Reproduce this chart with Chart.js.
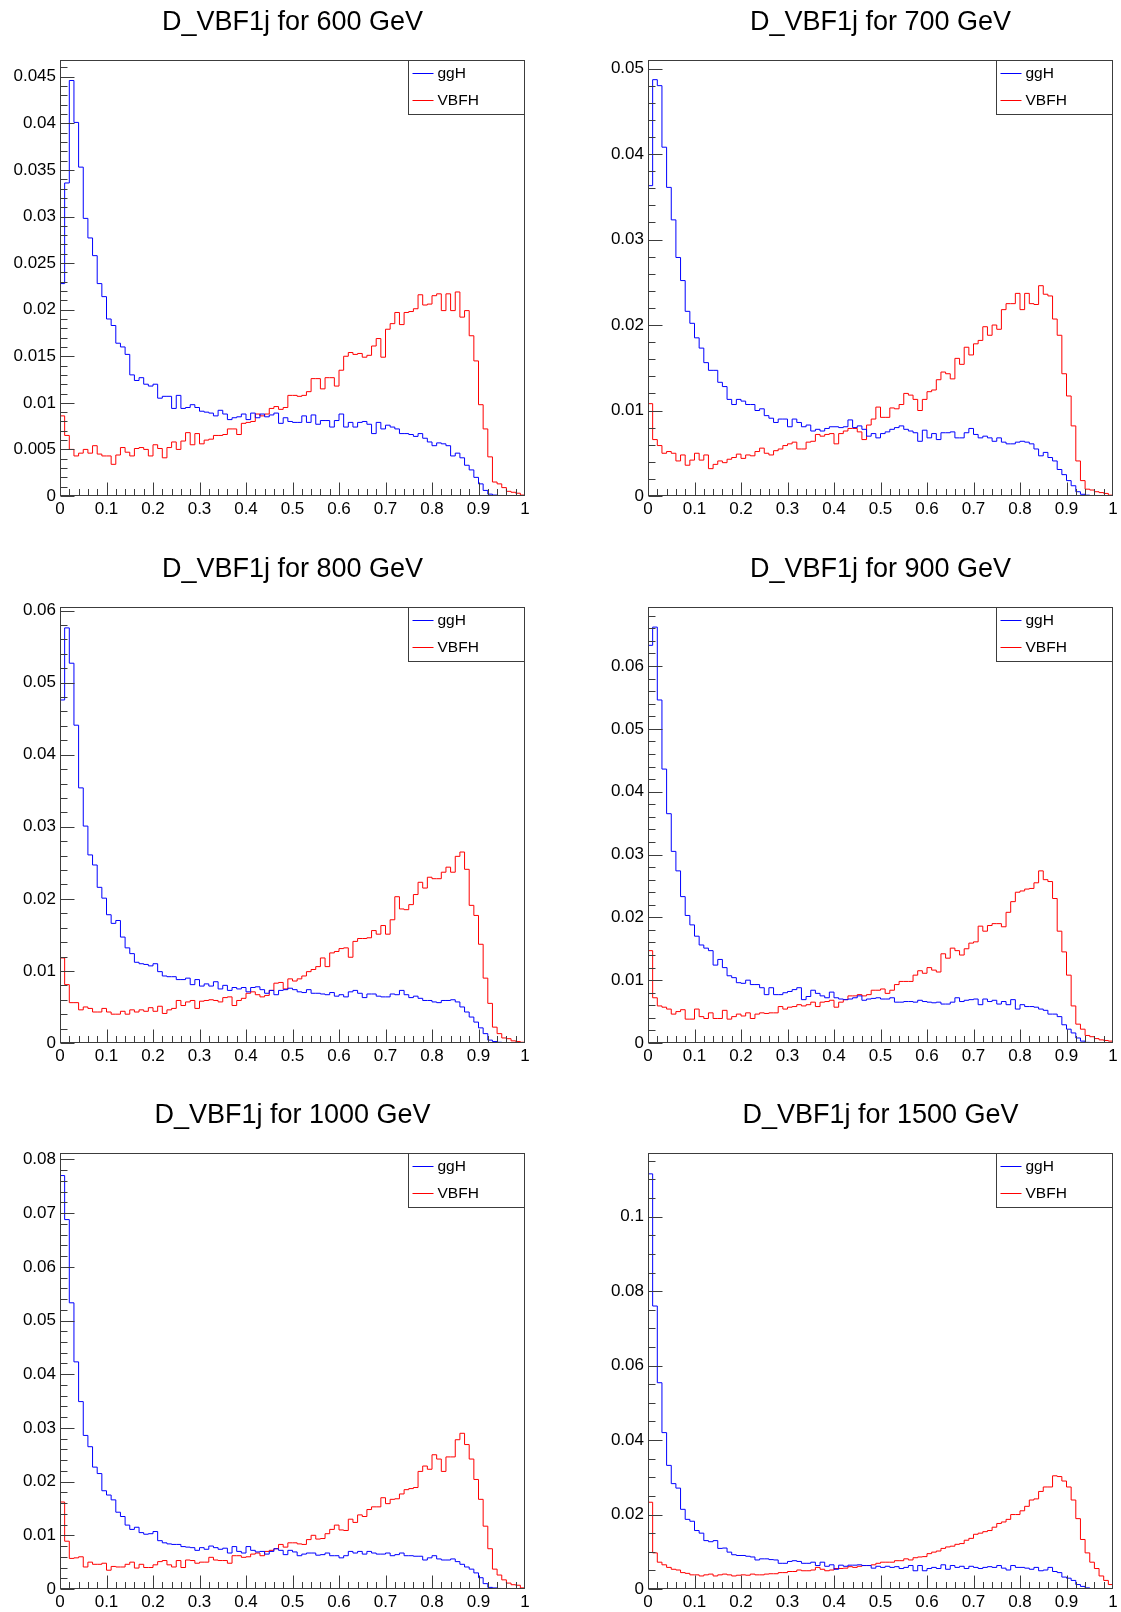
<!DOCTYPE html>
<html>
<head>
<meta charset="utf-8">
<script src="https://cdn.jsdelivr.net/npm/chart.js@4.4.1/dist/chart.umd.min.js"></script>
<style>
  body { margin: 0; background: #fff; width: 1121px; height: 1612px; overflow: hidden; position: relative; }
  canvas { position: absolute; }
</style>
</head>
<body>
<script>
// bin contents, 100 bins on [0, 1]
const ggH600 = [0.0228,0.0336,0.0446,0.0401,0.0353,0.0298,0.0277,0.0258,0.0228,0.0214,
  0.0190,0.0183,0.0164,0.0160,0.0152,0.0130,0.0124,0.0127,0.0120,0.0118,
  0.0120,0.0105,0.0107,0.0107,0.0094,0.0108,0.0094,0.0095,0.0098,0.0095,
  0.0091,0.0090,0.0089,0.0086,0.0092,0.0088,0.0082,0.0084,0.0085,0.0088,
  0.0082,0.0089,0.0084,0.0088,0.0085,0.0087,0.0089,0.0078,0.0084,0.0080,
  0.0079,0.0079,0.0086,0.0079,0.0087,0.0077,0.0081,0.0081,0.0074,0.0081,
  0.0088,0.0074,0.0079,0.0074,0.0079,0.0080,0.0077,0.0067,0.0079,0.0072,
  0.0076,0.0074,0.0072,0.0067,0.0067,0.0066,0.0064,0.0067,0.0062,0.0058,
  0.0054,0.0057,0.0056,0.0054,0.0043,0.0046,0.0041,0.0033,0.0028,0.0020,
  0.0013,0.0006,0.0002,0.0001,0,0,0,0,0,0];
const vbf600 = [0.0086,0.0065,0.0050,0.0043,0.0046,0.0050,0.0046,0.0054,0.0045,0.0043,
  0.0043,0.0034,0.0044,0.0052,0.0047,0.0043,0.0051,0.0052,0.0050,0.0043,
  0.0055,0.0051,0.0041,0.0052,0.0058,0.0050,0.0059,0.0068,0.0055,0.0067,
  0.0056,0.0060,0.0061,0.0065,0.0065,0.0066,0.0072,0.0072,0.0066,0.0078,
  0.0079,0.0080,0.0088,0.0086,0.0088,0.0094,0.0096,0.0093,0.0095,0.0108,
  0.0108,0.0107,0.0108,0.0112,0.0126,0.0126,0.0115,0.0127,0.0127,0.0118,
  0.0135,0.0150,0.0154,0.0152,0.0153,0.0149,0.0151,0.0161,0.0169,0.0149,
  0.0179,0.0185,0.0197,0.0184,0.0197,0.0198,0.0201,0.0216,0.0205,0.0206,
  0.0215,0.0217,0.0199,0.0217,0.0199,0.0219,0.0192,0.0199,0.0172,0.0145,
  0.0098,0.0072,0.0042,0.0015,0.0013,0.0009,0.0005,0.0004,0.0003,0.0001];

const ggH700 = [0.0363,0.0487,0.0480,0.0408,0.0361,0.0323,0.0279,0.0252,0.0216,0.0202,
  0.0185,0.0173,0.0156,0.0147,0.0147,0.0133,0.0128,0.0113,0.0107,0.0113,
  0.0111,0.0107,0.0107,0.0100,0.0102,0.0094,0.0091,0.0086,0.0090,0.0090,
  0.0081,0.0090,0.0086,0.0081,0.0083,0.0076,0.0078,0.0076,0.0079,0.0081,
  0.0081,0.0080,0.0081,0.0089,0.0080,0.0082,0.0078,0.0070,0.0073,0.0068,
  0.0073,0.0075,0.0078,0.0080,0.0082,0.0078,0.0076,0.0074,0.0064,0.0077,
  0.0068,0.0073,0.0066,0.0074,0.0074,0.0075,0.0068,0.0068,0.0074,0.0079,
  0.0072,0.0068,0.0070,0.0068,0.0064,0.0068,0.0063,0.0061,0.0061,0.0063,
  0.0064,0.0063,0.0061,0.0055,0.0047,0.0051,0.0045,0.0041,0.0031,0.0025,
  0.0018,0.0012,0.0005,0.0002,0.0001,0,0,0,0,0];
const vbf700 = [0.0108,0.0066,0.0059,0.0050,0.0052,0.0050,0.0041,0.0048,0.0036,0.0042,
  0.0050,0.0042,0.0048,0.0032,0.0037,0.0041,0.0039,0.0043,0.0045,0.0049,
  0.0044,0.0048,0.0047,0.0052,0.0056,0.0050,0.0048,0.0053,0.0055,0.0059,
  0.0061,0.0063,0.0055,0.0055,0.0063,0.0064,0.0072,0.0070,0.0072,0.0073,
  0.0061,0.0073,0.0076,0.0079,0.0079,0.0075,0.0066,0.0083,0.0090,0.0104,
  0.0092,0.0092,0.0103,0.0102,0.0107,0.0120,0.0118,0.0113,0.0100,0.0113,
  0.0122,0.0124,0.0136,0.0145,0.0143,0.0137,0.0161,0.0154,0.0174,0.0165,
  0.0178,0.0182,0.0198,0.0188,0.0200,0.0195,0.0218,0.0225,0.0225,0.0237,
  0.0218,0.0237,0.0225,0.0224,0.0246,0.0236,0.0234,0.0207,0.0188,0.0143,
  0.0117,0.0082,0.0041,0.0018,0.0008,0.0007,0.0005,0.0004,0.0003,0.0001];

const ggH800 = [0.0476,0.0576,0.0527,0.0441,0.0354,0.0301,0.0261,0.0247,0.0216,0.0201,
  0.0178,0.0166,0.0170,0.0147,0.0132,0.0124,0.0112,0.0110,0.0109,0.0107,
  0.0110,0.0099,0.0093,0.0092,0.0092,0.0088,0.0088,0.0090,0.0081,0.0088,
  0.0079,0.0082,0.0079,0.0085,0.0075,0.0080,0.0073,0.0077,0.0075,0.0077,
  0.0071,0.0077,0.0078,0.0074,0.0069,0.0073,0.0067,0.0073,0.0074,0.0076,
  0.0074,0.0071,0.0070,0.0074,0.0069,0.0069,0.0068,0.0067,0.0070,0.0065,
  0.0067,0.0064,0.0071,0.0073,0.0069,0.0063,0.0068,0.0068,0.0065,0.0064,
  0.0064,0.0068,0.0067,0.0073,0.0067,0.0063,0.0065,0.0062,0.0059,0.0059,
  0.0057,0.0056,0.0059,0.0059,0.0060,0.0057,0.0050,0.0043,0.0036,0.0029,
  0.0021,0.0013,0.0004,0.0002,0.0001,0,0,0,0,0];
const vbf800 = [0.0118,0.0081,0.0056,0.0056,0.0046,0.0050,0.0048,0.0043,0.0043,0.0048,
  0.0043,0.0040,0.0040,0.0044,0.0040,0.0046,0.0043,0.0046,0.0044,0.0049,
  0.0044,0.0051,0.0041,0.0046,0.0048,0.0059,0.0052,0.0057,0.0059,0.0048,
  0.0058,0.0059,0.0060,0.0059,0.0057,0.0063,0.0064,0.0052,0.0059,0.0062,
  0.0069,0.0071,0.0067,0.0064,0.0066,0.0073,0.0083,0.0084,0.0075,0.0089,
  0.0086,0.0089,0.0093,0.0099,0.0102,0.0106,0.0118,0.0106,0.0125,0.0127,
  0.0131,0.0132,0.0119,0.0141,0.0145,0.0145,0.0146,0.0156,0.0151,0.0163,
  0.0151,0.0171,0.0203,0.0186,0.0185,0.0192,0.0206,0.0223,0.0215,0.0230,
  0.0228,0.0228,0.0237,0.0244,0.0237,0.0259,0.0265,0.0241,0.0191,0.0177,
  0.0137,0.0090,0.0055,0.0022,0.0013,0.0007,0.0006,0.0003,0.0002,0.0001];

const ggH900 = [0.0633,0.0662,0.0546,0.0436,0.0365,0.0305,0.0274,0.0233,0.0203,0.0188,
  0.0170,0.0156,0.0151,0.0147,0.0124,0.0133,0.0120,0.0107,0.0104,0.0096,
  0.0095,0.0100,0.0093,0.0093,0.0088,0.0077,0.0088,0.0077,0.0077,0.0080,
  0.0082,0.0085,0.0088,0.0069,0.0074,0.0084,0.0079,0.0075,0.0072,0.0081,
  0.0072,0.0070,0.0069,0.0070,0.0072,0.0075,0.0068,0.0070,0.0071,0.0072,
  0.0070,0.0070,0.0072,0.0065,0.0065,0.0066,0.0066,0.0065,0.0068,0.0066,
  0.0065,0.0064,0.0065,0.0062,0.0062,0.0065,0.0072,0.0066,0.0068,0.0069,
  0.0070,0.0061,0.0070,0.0066,0.0068,0.0062,0.0066,0.0061,0.0069,0.0054,
  0.0061,0.0058,0.0058,0.0057,0.0054,0.0052,0.0046,0.0046,0.0042,0.0029,
  0.0022,0.0016,0.0008,0.0003,0.0001,0,0,0,0,0];
const vbf900 = [0.0147,0.0072,0.0059,0.0057,0.0054,0.0046,0.0050,0.0053,0.0038,0.0038,
  0.0054,0.0042,0.0039,0.0048,0.0039,0.0039,0.0052,0.0038,0.0042,0.0046,
  0.0043,0.0048,0.0039,0.0046,0.0048,0.0047,0.0048,0.0048,0.0058,0.0054,
  0.0057,0.0058,0.0061,0.0059,0.0061,0.0065,0.0058,0.0065,0.0066,0.0068,
  0.0057,0.0065,0.0069,0.0075,0.0075,0.0077,0.0075,0.0077,0.0084,0.0084,
  0.0086,0.0079,0.0084,0.0093,0.0098,0.0098,0.0098,0.0108,0.0115,0.0111,
  0.0120,0.0116,0.0113,0.0142,0.0135,0.0151,0.0147,0.0140,0.0150,0.0159,
  0.0161,0.0186,0.0178,0.0187,0.0190,0.0190,0.0185,0.0208,0.0225,0.0240,
  0.0242,0.0245,0.0246,0.0255,0.0274,0.0260,0.0257,0.0230,0.0178,0.0145,
  0.0108,0.0059,0.0030,0.0022,0.0012,0.0010,0.0007,0.0005,0.0004,0.0003];

const ggH1000 = [0.0770,0.0688,0.0533,0.0423,0.0349,0.0286,0.0265,0.0227,0.0215,0.0183,
  0.0175,0.0166,0.0143,0.0135,0.0119,0.0111,0.0115,0.0105,0.0102,0.0103,
  0.0107,0.0090,0.0086,0.0084,0.0083,0.0083,0.0079,0.0078,0.0077,0.0072,
  0.0077,0.0074,0.0080,0.0077,0.0074,0.0076,0.0067,0.0079,0.0070,0.0067,
  0.0079,0.0072,0.0069,0.0070,0.0065,0.0070,0.0075,0.0072,0.0064,0.0072,
  0.0069,0.0062,0.0065,0.0067,0.0067,0.0063,0.0064,0.0067,0.0062,0.0062,
  0.0058,0.0062,0.0070,0.0067,0.0070,0.0065,0.0070,0.0067,0.0065,0.0065,
  0.0067,0.0062,0.0064,0.0067,0.0062,0.0062,0.0061,0.0061,0.0054,0.0058,
  0.0062,0.0056,0.0054,0.0054,0.0056,0.0051,0.0046,0.0041,0.0037,0.0030,
  0.0021,0.0010,0.0003,0.0002,0.0001,0,0,0,0,0];
const vbf1000 = [0.0162,0.0089,0.0057,0.0058,0.0060,0.0041,0.0050,0.0046,0.0046,0.0048,
  0.0035,0.0042,0.0041,0.0041,0.0046,0.0050,0.0039,0.0046,0.0040,0.0040,
  0.0045,0.0051,0.0053,0.0045,0.0041,0.0053,0.0040,0.0054,0.0053,0.0048,
  0.0050,0.0050,0.0059,0.0054,0.0053,0.0053,0.0048,0.0062,0.0062,0.0059,
  0.0060,0.0065,0.0067,0.0062,0.0070,0.0072,0.0075,0.0083,0.0078,0.0086,
  0.0086,0.0084,0.0083,0.0092,0.0100,0.0093,0.0094,0.0103,0.0111,0.0119,
  0.0110,0.0109,0.0130,0.0124,0.0138,0.0135,0.0148,0.0153,0.0153,0.0170,
  0.0159,0.0167,0.0168,0.0177,0.0185,0.0187,0.0189,0.0219,0.0229,0.0223,
  0.0250,0.0242,0.0219,0.0246,0.0246,0.0278,0.0290,0.0269,0.0242,0.0204,
  0.0167,0.0117,0.0075,0.0037,0.0026,0.0017,0.0011,0.0008,0.0007,0.0002];

const ggH1500 = [0.1115,0.0760,0.0554,0.0420,0.0332,0.0283,0.0271,0.0214,0.0187,0.0182,
  0.0157,0.0150,0.0130,0.0127,0.0130,0.0109,0.0110,0.0099,0.0092,0.0090,
  0.0090,0.0088,0.0086,0.0078,0.0081,0.0081,0.0079,0.0078,0.0069,0.0069,
  0.0074,0.0076,0.0074,0.0069,0.0069,0.0072,0.0063,0.0072,0.0061,0.0065,
  0.0053,0.0064,0.0061,0.0064,0.0064,0.0065,0.0063,0.0063,0.0056,0.0061,
  0.0058,0.0061,0.0058,0.0060,0.0055,0.0058,0.0063,0.0049,0.0063,0.0049,
  0.0055,0.0058,0.0055,0.0065,0.0053,0.0063,0.0058,0.0061,0.0055,0.0061,
  0.0058,0.0055,0.0058,0.0060,0.0058,0.0063,0.0056,0.0051,0.0063,0.0058,
  0.0058,0.0056,0.0053,0.0058,0.0049,0.0051,0.0058,0.0047,0.0044,0.0032,
  0.0029,0.0023,0.0012,0.0007,0.0003,0.0001,0,0,0,0];
const vbf1500 = [0.0233,0.0097,0.0072,0.0065,0.0058,0.0053,0.0051,0.0044,0.0042,0.0038,
  0.0038,0.0035,0.0038,0.0040,0.0035,0.0038,0.0040,0.0038,0.0035,0.0037,
  0.0038,0.0037,0.0040,0.0038,0.0038,0.0040,0.0041,0.0041,0.0044,0.0044,
  0.0047,0.0047,0.0051,0.0049,0.0049,0.0051,0.0058,0.0053,0.0049,0.0051,
  0.0055,0.0055,0.0056,0.0060,0.0058,0.0061,0.0063,0.0063,0.0065,0.0069,
  0.0072,0.0072,0.0072,0.0076,0.0076,0.0081,0.0078,0.0084,0.0086,0.0087,
  0.0095,0.0099,0.0102,0.0109,0.0113,0.0115,0.0120,0.0122,0.0131,0.0136,
  0.0147,0.0150,0.0154,0.0157,0.0166,0.0176,0.0180,0.0187,0.0200,0.0200,
  0.0210,0.0222,0.0239,0.0242,0.0262,0.0274,0.0274,0.0304,0.0302,0.0290,
  0.0274,0.0239,0.0189,0.0133,0.0097,0.0072,0.0055,0.0035,0.0023,0.0012];

const masses = [600, 700, 800, 900, 1000, 1500];
const ggH = [ggH600, ggH700, ggH800, ggH900, ggH1000, ggH1500];
const vbf = [vbf600, vbf700, vbf800, vbf900, vbf1000, vbf1500];
const yMax = [0.0468, 0.0510, 0.0605, 0.0694, 0.0812, 0.1171];
const yMajor = [0.005, 0.01, 0.01, 0.01, 0.01, 0.02];
const yMinor = [0.001, 0.002, 0.002, 0.002, 0.002, 0.005];
const xMin = 0, xMax = 1;

const FONT = '"Liberation Sans", Arial, Helvetica, sans-serif';
const AXIS = '#3c3c3c';

// histogram -> points at the low edge of each bin, plus the upper edge of the last one
function histPoints(vals) {
  const w = (xMax - xMin) / vals.length;
  const pts = vals.map((v, i) => ({ x: xMin + i * w, y: v }));
  pts.push({ x: xMax, y: vals[vals.length - 1] });
  return pts;
}

const fmt = v => String(+Number(v).toFixed(4));

// ROOT style frame with inward major/minor ticks
const rootFrame = {
  id: 'rootFrame',
  afterDatasetsDraw(chart) {
    const { ctx, chartArea: a, scales: { x, y } } = chart;
    const minor = chart.options.plugins.rootFrame.yMinor;
    const major = chart.options.plugins.rootFrame.yMajor;
    const L = Math.round(a.left) + 0.5, R = Math.round(a.right) - 0.5;
    const T = Math.round(a.top) + 0.5, B = Math.round(a.bottom) - 0.5;
    ctx.save();
    ctx.strokeStyle = AXIS;
    ctx.lineWidth = 1;
    ctx.beginPath();
    for (let i = 0; i <= 50; i++) {
      const px = Math.round(x.getPixelForValue(i * 0.02)) + (i === 50 ? -0.5 : 0.5);
      const len = i % 5 === 0 ? 13 : 6.5;
      ctx.moveTo(px, B);
      ctx.lineTo(px, B - len);
    }
    const per = Math.round(major / minor);
    for (let i = 0; i * minor <= y.max + 1e-9; i++) {
      const py = Math.round(y.getPixelForValue(i * minor)) + 0.5;
      const len = i % per === 0 ? 14 : 7;
      ctx.moveTo(L, py);
      ctx.lineTo(L + len, py);
    }
    ctx.stroke();
    ctx.strokeRect(L, T, R - L, B - T);
    ctx.restore();
  }
};

// boxed legend in the upper right corner of the frame
const boxLegend = {
  id: 'boxLegend',
  afterDraw(chart) {
    const { ctx, chartArea: a } = chart;
    const w = 116, h = 54;
    const x0 = Math.round(a.right) - w - 0.5, y0 = Math.round(a.top) + 0.5;
    ctx.save();
    ctx.fillStyle = '#fff';
    ctx.fillRect(x0, y0, w, h);
    ctx.strokeStyle = AXIS;
    ctx.lineWidth = 1;
    ctx.strokeRect(x0, y0, w, h);
    ctx.font = '15.5px ' + FONT;
    ctx.textBaseline = 'middle';
    ctx.fillStyle = '#000';
    chart.data.datasets.forEach((ds, i) => {
      const yy = y0 + 12.5 + i * 27;
      ctx.strokeStyle = ds.borderColor;
      ctx.beginPath();
      ctx.moveTo(x0 + 4, Math.round(yy) + 0.5);
      ctx.lineTo(x0 + 25, Math.round(yy) + 0.5);
      ctx.stroke();
      ctx.fillText(ds.label, x0 + 29, yy + 1);
    });
    ctx.restore();
  }
};

const pads = [];
masses.forEach((m, i) => {
  const col = i % 2, row = Math.floor(i / 2);
  const c = document.createElement('canvas');
  const width = col === 0 ? 560 : 561;
  c.width = width;
  c.height = 546;
  c.style.left = (col === 0 ? 0 : 560) + 'px';
  c.style.top = [0, 547, 1093][row] + 'px';
  document.body.appendChild(c);
  const yAxisW = col === 0 ? 60 : 88;
  const padRight = col === 0 ? 35 : 8;

  pads.push(new Chart(c, {
    type: 'line',
    data: {
      datasets: [
        { label: 'ggH', data: histPoints(ggH[i]), borderColor: '#0000ff', borderWidth: 1,
          pointRadius: 0, stepped: 'before', fill: false },
        { label: 'VBFH', data: histPoints(vbf[i]), borderColor: '#ff0000', borderWidth: 1,
          pointRadius: 0, stepped: 'before', fill: false }
      ]
    },
    options: {
      responsive: false,
      animation: false,
      devicePixelRatio: 1,
      layout: { padding: { left: 0, right: padRight, top: 0, bottom: 0 } },
      plugins: {
        legend: { display: false },
        tooltip: { enabled: false },
        title: {
          display: true,
          text: 'D_VBF1j for ' + m + ' GeV',
          fullSize: false,
          color: '#000',
          font: { family: FONT, size: 27, weight: 'normal' },
          padding: { top: 6, bottom: 21.6 }
        },
        rootFrame: { yMajor: yMajor[i], yMinor: yMinor[i] }
      },
      scales: {
        x: {
          type: 'linear',
          min: xMin,
          max: xMax,
          grid: { display: false, drawTicks: false },
          border: { display: false },
          ticks: {
            stepSize: 0.1,
            autoSkip: false,
            maxRotation: 0,
            padding: 3,
            color: '#000',
            font: { family: FONT, size: 17 },
            callback: v => fmt(v)
          },
          afterFit: s => { s.height = 50; }
        },
        y: {
          min: 0,
          max: yMax[i],
          grid: { display: false, drawTicks: false },
          border: { display: false },
          ticks: {
            stepSize: yMajor[i],
            includeBounds: false,
            padding: 4,
            color: '#000',
            font: { family: FONT, size: 17 },
            callback: v => fmt(v)
          },
          afterFit: s => { s.width = yAxisW; }
        }
      }
    },
    plugins: [rootFrame, boxLegend]
  }));
});
</script>
</body>
</html>
